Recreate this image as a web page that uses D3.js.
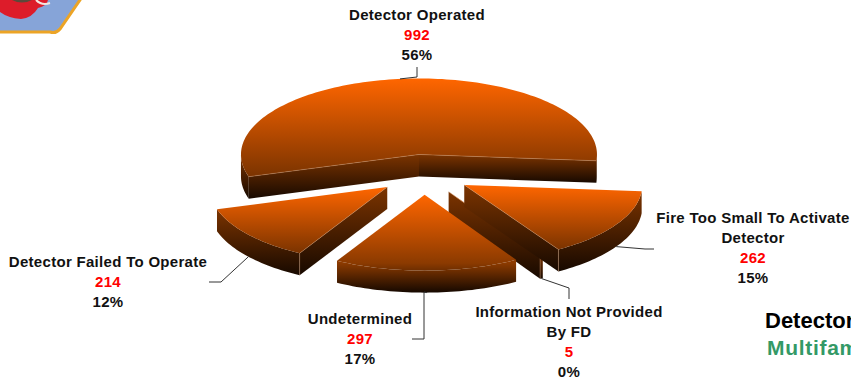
<!DOCTYPE html>
<html>
<head>
<meta charset="utf-8">
<title>Detector Performance</title>
<script src="https://cdn.jsdelivr.net/npm/d3@7"></script>
<style>
    html, body { margin: 0; padding: 0; background: #fff; overflow: hidden; }
    #chart { width: 851px; height: 383px; overflow: hidden; }
    text { font-family: "Liberation Sans", Arial, sans-serif; font-weight: bold; }
</style>
</head>
<body>
<div id="chart"></div>
<script>
// values
const categories = ["Detector Operated", "Fire Too Small To Activate Detector", "Information Not Provided By FD", "Undetermined", "Detector Failed To Operate"];
const counts = [992, 262, 5, 297, 214];
const percents = ["56%", "15%", "0%", "17%", "12%"];

// label wrapping, same order as categories
const labelLines = [
    ["Detector Operated"],
    ["Fire Too Small To Activate", "Detector"],
    ["Information Not Provided", "By FD"],
    ["Undetermined"],
    ["Detector Failed To Operate"]
];

// where each label sits and how its leader line bends
const labelX = [417, 753, 569, 360, 108];
const labelY = [20, 223, 317, 324, 267];
const leaderBends = [
    [[417, 77], [417, 67]],
    [[645, 249], [654, 249]],
    [[569, 288], [569, 299]],
    [[424, 292], [424, 339], [412, 339]],
    [[221, 282], [209, 282]]
];

const width = 851, height = 383;
const cx = 424, cy = 174.5;    // pie centre before the slices are pulled out
const rx = 178, ry = 76;       // tilted ellipse
const depth = 22;              // height of the pie
const explode = 0.265;         // how far slices are pulled out, in radii
const lineStep = 20;

const svg = d3.select("#chart").append("svg")
    .attr("width", width)
    .attr("height", height)
    .attr("viewBox", `0 0 ${width} ${height}`);

const defs = svg.append("defs");

//gradients for the top faces and the walls
function addGradient(id, from, to) {
    const g = defs.append("linearGradient")
        .attr("id", id)
        .attr("x1", 0).attr("y1", 0).attr("x2", 0).attr("y2", 1);
    g.append("stop").attr("offset", "0%").attr("stop-color", from);
    g.append("stop").attr("offset", "100%").attr("stop-color", to);
}
addGradient("topFace", "#ff6600", "#7a3300");
addGradient("wall", "#7c3400", "#170900");

defs.append("filter").attr("id", "soft")
    .append("feGaussianBlur").attr("stdDeviation", 0.6);

// badge in the corner, only its lower part is on the page
const badge = svg.append("g").attr("filter", "url(#soft)");
badge.append("path")
    .attr("d", "M-3,-3 L82,-3 L60,29 Q56,34 50,32 L-3,32 Z")
    .attr("fill", "#86a4d8")
    .attr("stroke", "#eca425")
    .attr("stroke-width", 3);
badge.append("path")
    .attr("d", "M0,0 L48,0 Q47,6 38,8 Q32,18 21,19 Q8,18 0,12 Z")
    .attr("fill", "#dd1c2c");
badge.append("path")
    .attr("d", "M36,0 Q42,6 50,3")
    .attr("fill", "none").attr("stroke", "#f4e6e0").attr("stroke-width", 2);
badge.append("path")
    .attr("d", "M12,0 Q22,5 32,0 Z")
    .attr("fill", "#5c4a3a");

// slices, Detector Operated wraps over the back of the pie
const pie = d3.pie().sort(null)
    .startAngle(-107 * Math.PI / 180)
    .endAngle(253 * Math.PI / 180);

const slices = pie(counts).map((d, i) => {
    const mid = (d.startAngle + d.endAngle) / 2;
    return {
        index: i,
        a0: d.startAngle,
        a1: d.endAngle,
        mid: mid,
        ox: cx + explode * rx * Math.sin(mid),
        oy: cy - explode * ry * Math.cos(mid)
    };
});

const unitX = d3.scaleLinear().domain([-1, 1]).range([-rx, rx]);
const unitY = d3.scaleLinear().domain([-1, 1]).range([-ry, ry]);
const line = d3.line();

function rimPoint(s, a, drop) {
    return [s.ox + unitX(Math.sin(a)), s.oy + unitY(-Math.cos(a)) + drop];
}

function rimArc(s, a0, a1, drop) {
    const n = Math.max(2, Math.ceil(Math.abs(a1 - a0) * 40));
    return d3.range(n + 1).map(k => rimPoint(s, a0 + (a1 - a0) * k / n, drop));
}

function radialWall(g, s, a) {
    g.append("path")
        .attr("d", line([[s.ox, s.oy], rimPoint(s, a, 0), rimPoint(s, a, depth), [s.ox, s.oy + depth]]) + "Z")
        .attr("fill", "url(#wall)");
}

function outerWall(g, s, from, to, fill) {
    const outer = rimArc(s, from, to, 0).concat(rimArc(s, to, from, depth));
    g.append("path").attr("d", line(outer) + "Z").attr("fill", fill);
}

// the slice at the very front has no visible seam, one gradient runs over top and wall
function addFrontGradient(s) {
    const g = defs.append("linearGradient")
        .attr("id", "frontSlice")
        .attr("gradientUnits", "userSpaceOnUse")
        .attr("x1", 0).attr("y1", s.oy)
        .attr("x2", 0).attr("y2", s.oy + ry + depth);
    g.append("stop").attr("offset", "0%").attr("stop-color", "#ff6600");
    g.append("stop").attr("offset", "70%").attr("stop-color", "#8b3a00");
    g.append("stop").attr("offset", "100%").attr("stop-color", "#150800");
}

// back to front
const drawOrder = [0, 2, 1, 4, 3];
const pieGroup = svg.append("g");

drawOrder.forEach(i => {
    const s = slices[i];
    const g = pieGroup.append("g").attr("class", "slice");
    const edges = [];
    const isFront = s.a0 < Math.PI && s.a1 > Math.PI;
    if (isFront) addFrontGradient(s);

    // outer wall, only the front half of the ellipse shows
    if (s.a0 < -Math.PI / 2) {
        outerWall(g, s, s.a0, -Math.PI / 2, "url(#wall)");
    }
    const from = Math.max(s.a0, Math.PI / 2);
    const to = Math.min(s.a1, Math.PI * 1.5);
    if (to > from) {
        outerWall(g, s, from, to, isFront ? "url(#frontSlice)" : "url(#wall)");
    }

    // radial walls that face the viewer
    if (Math.sin(s.a0) < 0) {
        radialWall(g, s, s.a0);
        edges.push(s.a0);
    }
    if (Math.sin(s.a1) > 0) {
        radialWall(g, s, s.a1);
        edges.push(s.a1);
    }

    // top face
    const top = [[s.ox, s.oy]].concat(rimArc(s, s.a0, s.a1, 0));
    g.append("path").attr("d", line(top) + "Z")
        .attr("fill", isFront ? "url(#frontSlice)" : "url(#topFace)");

    // faint light seam along the wall tops and down the near corner
    edges.forEach(a => {
        const seam = s.index === 0
            ? [[s.ox, s.oy], rimPoint(s, a, 0)]
            : [[s.ox, s.oy], rimPoint(s, a, 0), rimPoint(s, a, depth)];
        g.append("path")
            .attr("d", line(seam))
            .attr("fill", "none")
            .attr("stroke", "#c89068")
            .attr("stroke-opacity", 0.55)
            .attr("stroke-width", 0.8);
    });
});

// leader lines start on the rim at the middle of each slice
slices.forEach(s => {
    const drop = Math.cos(s.mid) > 0 ? 0 : depth;
    svg.append("path")
        .attr("d", line([rimPoint(s, s.mid, drop)].concat(leaderBends[s.index])))
        .attr("fill", "none")
        .attr("stroke", "#333")
        .attr("stroke-width", 1);
});

// labels
categories.forEach((c, i) => {
    const label = svg.append("text")
        .attr("text-anchor", "middle")
        .attr("font-size", 15)
        .attr("letter-spacing", 0.3);
    const rows = labelLines[i]
        .map(t => ({text: t, fill: "#111"}))
        .concat([{text: counts[i], fill: "#ff0000"}, {text: percents[i], fill: "#111"}]);
    rows.forEach((r, k) => {
        label.append("tspan")
            .attr("x", labelX[i])
            .attr("y", labelY[i] + k * lineStep)
            .attr("fill", r.fill)
            .text(r.text);
    });
});

// title runs off the page on the right
svg.append("text")
    .attr("x", 765).attr("y", 328)
    .attr("font-size", 22).attr("fill", "#000")
    .text("Detector");
svg.append("text")
    .attr("x", 767).attr("y", 355)
    .attr("font-size", 21).attr("letter-spacing", 0.7).attr("fill", "#339966")
    .text("Multifam");
</script>
</body>
</html>
